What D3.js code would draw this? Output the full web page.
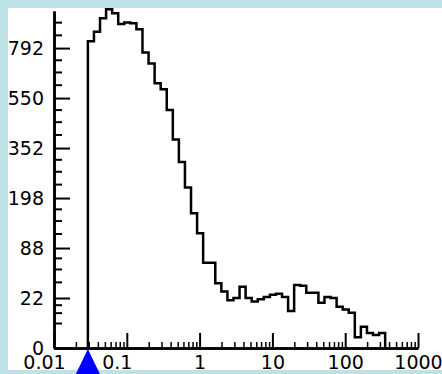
<!DOCTYPE html>
<html>
<head>
<meta charset="utf-8">
<script src="https://cdn.jsdelivr.net/npm/d3@7/dist/d3.min.js"></script>
<style>
  body { margin: 0; background: #bce2e5; }
  svg { display: block; }
  .axis text { font-family: "DejaVu Sans", sans-serif; font-size: 19px; fill: #000; }
</style>
</head>
<body>
<div id="chart"></div>
<script>
// histogram counts, log bins of 1/12 decade starting at the marker
var binStart = 0.0292;
var binsPerDecade = 12;
var counts = [829, 880, 957, 1011, 986, 924, 933, 928, 895, 769, 713, 617, 589, 499,
  383, 305, 227, 160, 116, 64, 64, 37, 28, 20, 22, 33, 22, 19, 21, 23, 25, 26, 23, 12,
  35, 34, 27, 27, 18, 23, 22, 15, 13, 11, 1, 4, 2, 1.5, 2];

var yTicks = [0, 22, 88, 198, 352, 550, 792];
var xTicks = [0.01, 0.1, 1, 10, 100, 1000];
var xTickLabels = ["0.01", "0.1", "1", "10", "100", "1000"];
var markerValue = 0.0292;

var W = 442, H = 374;
var frame = 8, panelBottom = 370;

var svg = d3.select("#chart").append("svg")
    .attr("width", W)
    .attr("height", H);

svg.append("rect")
    .attr("x", frame).attr("y", frame)
    .attr("width", W - frame).attr("height", panelBottom - frame)
    .style("fill", "#fff");

var x = d3.scaleLog().domain([0.01, 1000]).range([54, 418]);
var y = d3.scaleSqrt().domain([0, 1000]).range([348, 11]);

//minor ticks
var xMinor = [];
for (var d = -2; d < 3; d++) {
  for (var k = 2; k < 10; k++) xMinor.push(k * Math.pow(10, d));
}
var yMinor = [];
for (var i = 0; i < yTicks.length; i++) {
  var lo = yTicks[i];
  var hi = i < yTicks.length - 1 ? yTicks[i + 1] : 36 * 22 + (49 - 36) * 22;
  for (var q = 1; q < 4; q++) {
    var v = lo + (hi - lo) * q / 4;
    if (v <= y.domain()[1]) yMinor.push(v);
  }
}

var yMinorAxis = svg.append("g")
    .attr("class", "axis")
    .attr("transform", "translate(54,0)")
    .call(d3.axisLeft(y).tickValues(yMinor).tickSizeInner(-8).tickSizeOuter(0).tickFormat(""));

var yAxis = svg.append("g")
    .attr("class", "axis")
    .attr("transform", "translate(54,0)")
    .call(d3.axisLeft(y).tickValues(yTicks).tickSizeInner(-16).tickSizeOuter(0).tickPadding(10));

var xMinorAxis = svg.append("g")
    .attr("class", "axis")
    .attr("transform", "translate(0,348)")
    .call(d3.axisBottom(x).tickValues(xMinor).tickSizeInner(-6).tickSizeOuter(0).tickFormat(""));

var xAxis = svg.append("g")
    .attr("class", "axis")
    .attr("transform", "translate(0,348)")
    .call(d3.axisBottom(x).tickValues(xTicks).tickSizeInner(-15).tickSizeOuter(0).tickPadding(8)
      .tickFormat(function(d, i) { return xTickLabels[i]; }));

xAxis.selectAll("text")
    .attr("dx", function(d) { return d < 1 ? -10 : 0; });

svg.selectAll(".axis .domain")
    .style("stroke", "#000")
    .style("stroke-width", 2.5);
svg.selectAll(".axis .tick line")
    .style("stroke", "#000")
    .style("stroke-width", 2);
xMinorAxis.selectAll(".tick line").style("stroke-width", 1.5);

//histogram outline
var edges = d3.range(counts.length + 1).map(function(i) {
  return binStart * Math.pow(10, i / binsPerDecade);
});
var pts = [[edges[0], 0]];
counts.forEach(function(c, i) { pts.push([edges[i], c]); });
pts.push([edges[counts.length], 0]);

var line = d3.line()
    .x(function(d) { return x(d[0]); })
    .y(function(d) { return y(d[1]); })
    .curve(d3.curveStepAfter);

svg.append("path")
    .datum(pts)
    .attr("d", line)
    .style("fill", "none")
    .style("stroke", "#000")
    .style("stroke-width", 2.5);

//frame over the panel
svg.append("path")
    .attr("d", "M0,0H" + W + "V" + H + "H0Z M" + frame + "," + frame + "H" + W + "V" + panelBottom + "H" + frame + "Z")
    .style("fill", "#bce2e5")
    .style("fill-rule", "evenodd");

//marker
var mx = x(markerValue);
svg.append("path")
    .attr("d", "M" + mx + ",349L" + (mx + 12) + ",374L" + (mx - 12) + ",374Z")
    .style("fill", "#0000ff");
</script>
</body>
</html>
